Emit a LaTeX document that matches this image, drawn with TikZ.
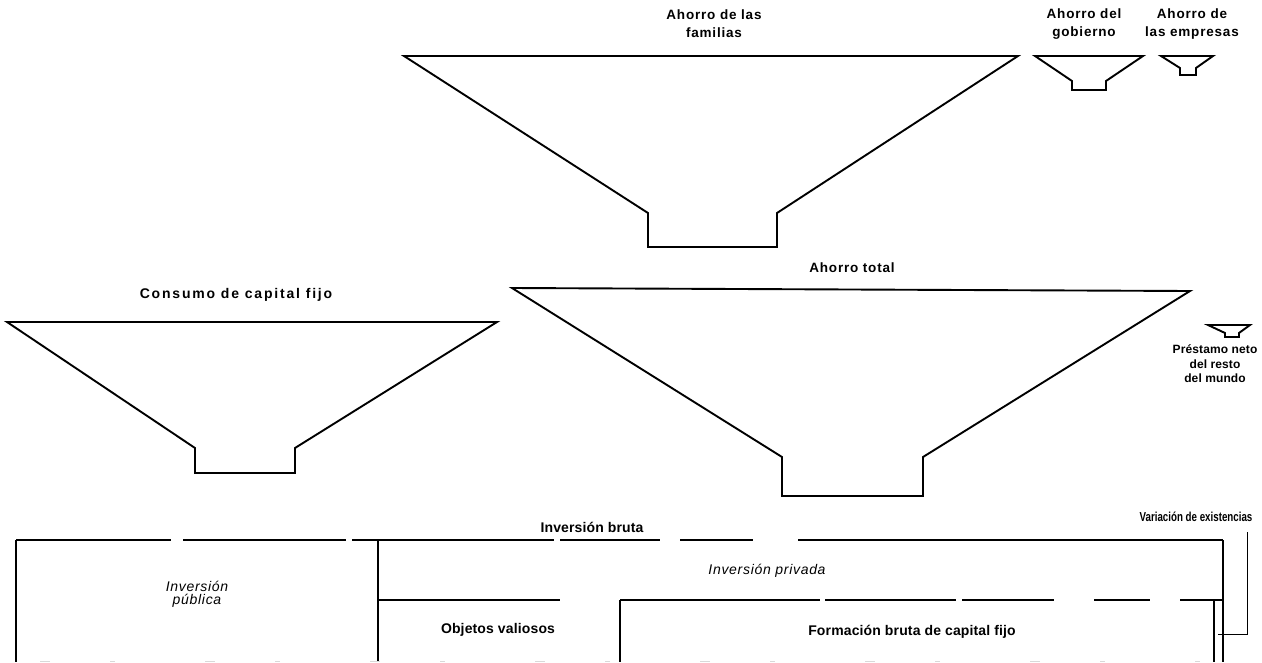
\documentclass[tikz,border=0pt]{standalone}
\usepackage{fontspec}
\setmainfont{Liberation Sans}
\newfontfamily\headfont{Liberation Sans}[LetterSpace=6]
\newfontfamily\widefont{Liberation Sans}[LetterSpace=13]
\newfontfamily\boxfont{Liberation Sans}[LetterSpace=1]
\newfontfamily\slantfont{Liberation Sans}[LetterSpace=5]

\tikzset{
  outline/.style={line width=1.9pt, line join=miter},
  boxline/.style={line width=1.3pt},
  topworn/.style={line width=1.4pt, dash pattern=on 155pt off 12pt on 163pt off 6pt on 202pt off 6pt on 100pt off 20pt on 73pt off 45pt on 425pt},
  midworn/.style={line width=1.4pt, dash pattern=on 182pt off 60pt on 200pt off 5pt on 131pt off 6pt on 92pt off 40pt on 56pt off 30pt on 43pt},
  faintline/.style={line width=0.9pt, gray!30, dash pattern=on 10pt off 60pt on 5pt off 90pt},
  headlab/.style={font={\headfont\bfseries\fontsize{13.5}{18}\selectfont}, align=center, inner sep=0pt},
  widelab/.style={font={\widefont\bfseries\fontsize{14}{18}\selectfont}, align=center, inner sep=0pt},
  smalllab/.style={font={\boxfont\bfseries\fontsize{12}{14.5}\selectfont}, align=center, inner sep=0pt},
  boxlab/.style={font={\boxfont\bfseries\fontsize{14}{16}\selectfont}, align=center, inner sep=0pt},
  narrowlab/.style={font={\bfseries\fontsize{13}{15}\selectfont}, align=center, inner sep=0pt},
  itallab/.style={font={\slantfont\itshape\fontsize{14}{13}\selectfont}, align=center, inner sep=0pt}
}

\begin{document}
\begin{tikzpicture}[x=1pt, y=-1pt]
\useasboundingbox (0,0) rectangle (1262,662);

% --- savings funnels (top row) ---
\draw[outline] (404,56) -- (1018,56) -- (777,213) -- (777,247) -- (648,247) -- (648,213) -- cycle;
\draw[outline] (1035,56) -- (1143,56) -- (1106,81) -- (1106,90) -- (1072,90) -- (1072,81) -- cycle;
\draw[outline] (1161,56) -- (1213,56) -- (1196,68) -- (1196,75) -- (1180,75) -- (1180,68) -- cycle;

\node[headlab] (fam) at (714,24) {Ahorro de las\\familias};
\node[headlab] (gov) at (1084,24) {Ahorro del\\gobierno};
\node[headlab] (emp) at (1192,24) {Ahorro de\\las empresas};

% --- second row: capital consumption, total saving, lending from abroad ---
\draw[outline] (7,322) -- (497,322) -- (295,448) -- (295,473) -- (195,473) -- (195,448) -- cycle;
\draw[outline] (512,288) -- (1190,291) -- (923,457) -- (923,496) -- (782,496) -- (782,457) -- cycle;
\draw[outline] (1208,325) -- (1250,325) -- (1239,333) -- (1239,337) -- (1225,337) -- (1225,333) -- cycle;

\node[widelab] (cons) at (236,295) {Consumo de capital fijo};
\node[headlab] (total) at (852,268) {Ahorro total};
\node[smalllab] (prest) at (1215,364) {Préstamo neto\\del resto\\del mundo};

% --- gross investment boxes ---
\draw[topworn] (16,540) -- (1223,540);
\draw[boxline] (16,540) -- (16,662);
\draw[boxline] (378,540) -- (378,662);
\draw[boxline] (1223,540) -- (1223,662);
\draw[midworn] (378,600) -- (1223,600);
\draw[boxline] (620,600) -- (620,662);
\draw[line width=2.6pt] (1214,600) -- (1214,662);
\draw[faintline] (40,661) -- (1200,661);

\node[boxlab] (bruta) at (592,527) {Inversión bruta};
\node[narrowlab] (var) at (1196,517) {\scalebox{0.75}[1]{Variación de existencias}};
\node[itallab] (pub) at (197,594) {Inversión\\pública};
\node[itallab] (priv) at (767,571) {Inversión privada};
\node[boxlab] (obj) at (498,630) {Objetos valiosos};
\node[boxlab] (fbkf) at (912,632) {Formación bruta de capital fijo};

% bracket from the inventory label down to the stock-change strip
\coordinate (vtop) at (1247,532);
\coordinate (vcorner) at (1247,634);
\coordinate (vend) at (1218,634);
\draw[line width=1pt] (vtop) -- (vcorner) -- (vend);
\end{tikzpicture}
\end{document}
